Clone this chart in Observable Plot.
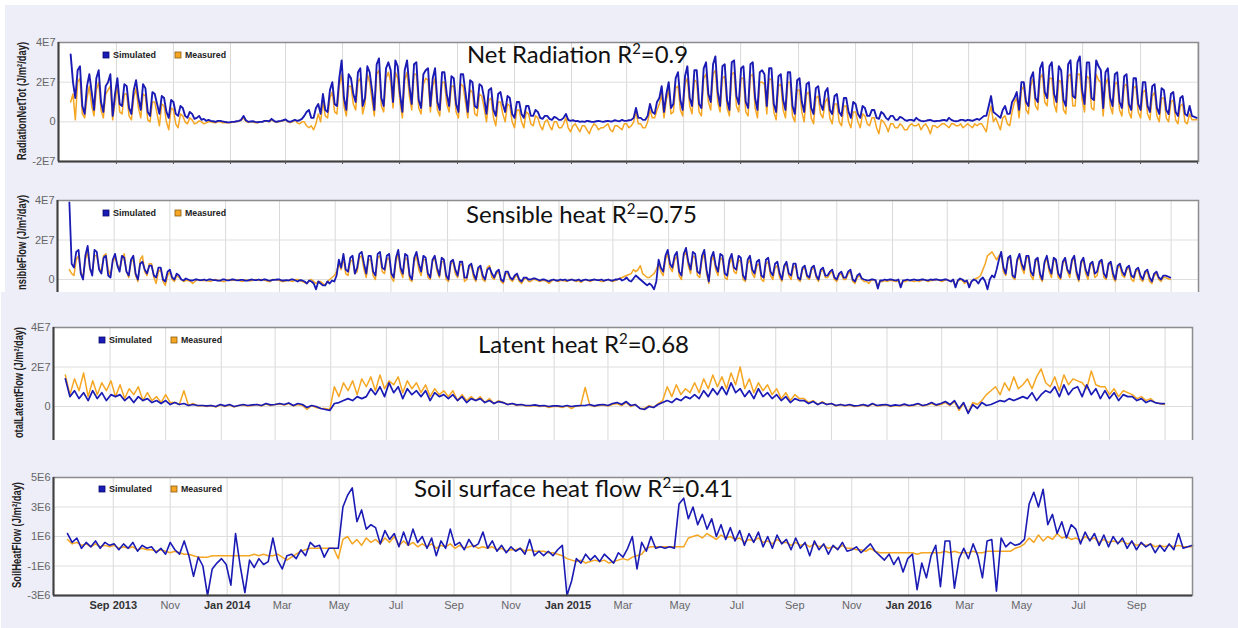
<!DOCTYPE html>
<html><head><meta charset="utf-8">
<script src="https://cdn.jsdelivr.net/npm/d3@7"></script>
<script src="https://cdn.jsdelivr.net/npm/@observablehq/plot@0.6"></script>
<style>
html,body{margin:0;padding:0;background:#fff;}
#root{position:relative;width:1238px;height:628px;overflow:hidden;background:#fff;font-family:"Liberation Sans",Arial,sans-serif;}
.bg{position:absolute;background:#eeeef9;}
.panel{position:absolute;left:0;width:1238px;overflow:hidden;}
</style></head><body><div id="root"></div>
<script>
// ---- data (units of 1E6 J/m²/day), all series start 2013-07-14 ----
const startDate = "2013-07-14";
const denseStepHours = 60;   // net radiation & sensible heat: one value every 2.5 days
const coarseStepHours = 120; // latent heat & soil heat flow: one value every 5 days

const netSim = [
34,20,12,26,28,8,4,18,24,15,6,22, 26,10,5,18,20,24,3,14,22,9,8,19, 18,7,4,16,21,12,6,19,17,5,3,15, 14,9,4,13,12,5,2,11,10,4,3,8,
7,3,2,5,4,1.5,2,3,1,1.5,0.5,1, 0.5,0.3,0,0.5,0.5,0.2,0,-0.2,-0.3,0,0,0.3, 0.5,1,3,0.8,0,0.2,0.3,0,-0.2,0,0,0.5, 0.5,0.3,1.5,0.5,0,0.3,0.5,0.8,1.2,0.3,0,0.5,
1,0.5,0.8,1.5,3,5,6,2,2,7,9,4, 14,6,5,16,20,9,8,22,31,12,6,24, 22,14,10,25,27,8,12,28,25,16,6,29, 32,12,8,27,30,26,10,31,28,14,5,26,
31,18,9,29,30,11,7,24,26,27,8,22, 27,10,6,25,25,14,8,23,22,9,5,24, 24,15,5,21,20,8,7,19,18,12,4,16, 17,6,3,14,15,9,5,13,12,4,2,10,
10,4,2,8,8,3,3,6,5,2,1.5,3, 3,1.5,1,2.5,2,1,1,2,4,1,0.5,0.8, 0.3,0.5,0,0.2,0,0.5,0.3,0,0,0.3,0.5,0.2, 0,0.3,0.5,0.2,0.3,0.8,0.5,0.3,1,0.5,0.5,0.8,
1,2,7,2,2,1,1,3,9,5,4,10, 12,18,5,14,20,7,9,22,25,11,6,23, 28,12,8,26,26,9,7,27,30,14,10,29, 33,15,8,28,29,11,6,30,31,13,9,27,
28,10,7,29,30,12,6,25,26,24,8,27, 27,9,5,23,24,11,6,25,25,8,4,21, 22,10,5,19,20,7,4,17,18,9,6,15, 17,6,4,13,14,5,3,12,12,5,2,10,
9,4,2,8,7,3,3,6,6,2,1.5,5, 4,2,1,3,3,1,1,2.5,2,1,0.5,1, 1,0.5,2,1,0.5,0.3,0.5,0.8,1,0.5,0.3,0.5, 0.5,0.8,1,0.5,2,1,0.5,0.3,0.5,1,1,0.5,
1,0.8,0.5,1,1.5,1,2,3,3,8,13,5, 4,3,2,6,8,4,4,10,12,15,6,20, 20,10,8,22,25,12,10,27,30,15,12,28, 30,14,10,28,26,11,8,29,31,13,12,30,
33,16,9,30,30,12,11,31,28,26,7,25, 27,12,8,24,25,10,7,23,24,9,6,22, 22,9,6,20,20,8,5,18,19,7,4,17, 16,6,4,14,15,5,3,12,13,4,3,8,
3,2.5,2];
const netMeas = [
10,14,1,20,22,4,2,12,18,8,3,16, 20,6,2,14,16,18,1,10,18,5,4,14, 14,3,1,12,17,7,2,14,13,1,0,10, 10,4,-2,9,8,0,-4,7,6,-1,-3,4,
3,0,-1,2,1,-1,-0.5,0.5,0,-1,-0.5,0, 0,-0.3,-0.5,0,0,-0.5,-0.3,-0.5,-0.5,-0.3,0,0, 0.3,0.8,2,0.3,-0.3,0,0,-0.5,-0.5,0,0,0.3, 0.3,0,1,0.3,-0.3,0,0.3,0.5,1,0,-0.3,0,
1,-0.5,-1,0,0,-2,-3,-2,-4,-1,4,0, 10,3,2,12,15,5,4,18,24,8,3,18, 18,9,6,20,22,4,9,24,20,11,3,24, 26,8,5,22,25,20,7,25,22,10,2,21,
25,13,6,24,24,7,4,19,22,21,5,18, 22,6,3,20,20,9,5,18,18,5,2,19, 18,10,2,16,15,4,3,14,13,7,0,11, 12,2,-2,10,10,4,0,9,8,0,-3,6,
6,0,-3,5,4,-1,-2,3,2,-2,-4,0, 1,-2,-4,0,0,-3,-3,-1,2,-3,-5,-2, -1,-3,-5,-2,-2,-4,-6,-3,-1,-2,-4,-3, -3,-2,-1,-4,-5,-2,-2,-3,-4,-1,-1,-3,
-2,0,5,-1,-1,-3,-3,0,6,2,2,6, 9,14,2,11,16,4,5,17,18,6,3,19, 22,8,4,21,20,5,3,22,24,10,6,24, 26,10,5,22,23,7,3,24,25,8,5,22,
22,5,3,23,24,7,2,20,20,19,4,22, 21,5,1,18,19,6,2,20,20,3,0,16, 16,5,0,14,15,2,-1,12,13,4,2,10, 12,2,-1,9,9,0,-2,8,8,0,-3,5,
5,0,-3,4,3,-1,-2,2,2,-3,-6,1, 0,-2,-5,-1,-1,-3,-3,-1,-2,-4,-4,-2, -1,-2,-2,-1,-4,-2,-1,-3,-6,-2,-2,-3, -2,-1,-1,-2,-3,-1,-1,-2,-2,-1,-3,-2,
-1,-2,-3,-1,-2,-1,-1,-3,-5,3,8,0, 2,-1,-4,2,3,-1,-2,5,10,12,2,16, 18,6,4,18,22,8,6,22,24,10,8,22, 22,9,5,21,20,6,4,23,24,8,8,24,
24,11,5,23,22,7,6,24,21,20,3,19, 22,8,4,19,20,6,3,18,19,5,2,17, 18,5,2,15,16,4,1,13,15,3,0,12, 12,2,0,10,11,1,-1,8,9,0,-1,4,
1,1,1];

const sensSim = [
39,8,6,14,15,3,0,12,17,6,2,15, 14,5,3,11,12,2,1,10,13,7,4,12, 11,4,2,10,12,3,0,8,9,5,3,7, 7,2,1,6,6,0,-1,4,5,1,0,3,
2,0,-0.5,0.5,0,-0.5,-0.5,0,0,-0.3,-0.3,0, -0.5,0,0,-0.3,-0.3,-0.6,-0.6,0,0,-0.4,-0.4,0, 0,-0.3,-0.5,-0.2,-0.2,-0.6,-0.6,-0.2,0,-0.3,-0.3,0, -0.4,0,0,-0.4,-0.6,-0.2,-0.2,0,0,-0.5,-0.5,-0.3,
-0.5,0,0,-0.5,-1,-0.3,-0.5,-1,-2,-0.5,-1,-2, -5,-1,-2,-3,-3,-1,-2,-0.5,-1,2,10,6, 13,5,4,11,12,3,6,13,14,8,3,12, 12,4,2,13,14,6,5,12,13,3,1,11,
15,6,3,13,12,2,0,11,14,8,4,12, 11,3,1,10,12,6,2,11,10,2,0,9, 10,5,2,9,9,1,1,7,8,3,0,6, 7,2,0,5,6,3,1,4,5,0,-1,4,
4,1,0,2,3,0,-1,1,1,0,0,0.5, 0.5,0,-0.5,0,0,-0.5,-1,-0.3,0,-0.5,-0.5,0, -0.3,0,-0.6,-0.3,0,-0.4,-0.4,0,-0.8,-0.3,0,-0.3, -0.5,-0.2,0,-0.3,-0.3,0,-0.6,-0.3,0,-0.5,-0.5,0,
0,0.5,-0.5,0,1,-0.5,-1,0.5,2,1,0,-1, -2,-3,-2,-3,-5,-1,10,6,4,12,15,8, 6,12,14,4,2,13,16,9,5,14,13,4, 3,12,15,5,-1,11,14,7,4,13,12,3,
2,10,13,6,5,12,11,2,0,10,12,5, 3,9,10,2,1,10,11,4,2,8,9,3, 0,7,9,3,2,8,8,1,0,6,7,2, 1,6,7,2,0,5,6,2,2,4,5,1,
0,3,4,1,1,4,5,0,-1,2,3,0.5, 0,-0.3,-0.5,0,0,-0.3,-4.6,-0.5,-0.5,0,-0.3,0, 0,-0.3,-0.5,0,-4,-0.5,-0.3,0,-0.5,-0.2,0,-0.3, -0.3,0,0,-0.3,-0.5,0,-0.2,0,0,-0.3,-0.3,0,
0,-0.5,-1,0,-4,-0.5,0.5,0,-1,-0.5,-4,-1, 0,-0.5,-2,0,1,-1,-5,0,2,1,5,10, 14,6,3,11,12,2,1,10,13,8,5,12, 12,4,2,10,11,3,0,9,12,6,3,11,
10,3,1,9,11,5,3,10,12,4,0,9, 11,5,2,8,9,3,4,9,10,3,1,8, 9,3,0,7,8,4,2,6,7,2,1,5, 6,2,0,4,5,1,-1,3,4,1,0,2,
2,1.5,1];
const sensMeas = [
5,3,2,10,12,4,1,10,14,5,3,12, 12,6,4,12,13,5,2,9,11,8,5,10, 13,4,1,9,10,2,-1,10,12,4,2,8, 8,1,-2,4,5,-1,-3,2,4,0,-1,2,
1,0,-1,-0.5,-0.5,-1,-2,-1,0,-0.5,-0.5,-0.5, -0.5,-0.8,-1,-0.3,0,-0.5,-0.5,-1,-1,-0.3,0,-0.5, -0.3,-0.5,0,-0.8,-1,-0.3,-0.3,-0.8,-0.5,-0.2,0,-0.5, 0,-0.3,-0.5,-1,-1,0,0,-0.3,-0.5,-1,-1,-0.5,
-0.5,-0.8,-1,0,0,-0.5,-1,-1.5,-2,-0.5,0,-1, -2,-1,-1,-2,-3,-1,0,1,2,4,8,5, 11,3,2,9,10,3,4,11,12,5,1,10, 10,2,0,11,12,4,3,10,11,1,-1,9,
13,4,1,11,10,0,-1,9,12,5,2,10, 10,1,0,9,11,4,1,9,9,0,-1,8, 9,3,1,7,8,-1,0,6,7,1,-1,5, 6,0,-1,6,7,1,0,3,4,-1,-2,3,
3,0,-1,1,2,-1,-2,0,1,-1,-1,0, 0,-0.5,-1,-0.5,-0.5,-1,-2,-1,0,-0.5,-1,-0.5, -0.5,-0.8,-1,0,0,-0.5,-1,-0.5,-1.5,-0.5,0,-0.5, -1,-0.5,0,-0.3,-0.5,-1,-1,-0.3,0,-0.5,-1,-0.5,
0,0.5,1,1.5,2,2.5,3,5,4,5,7,3, 2,1,1,2,3,5,8,4,2,10,13,6, 4,10,12,2,0,12,14,7,3,12,11,2, 1,10,13,3,-2,9,12,5,2,11,10,1,
0,8,11,4,3,10,9,0,-1,8,10,3, 1,7,8,0,-1,8,9,2,0,6,7,1, -1,6,8,2,0,6,7,0,-1,5,6,1, 0,5,6,1,-1,4,5,1,1,3,4,0,
-1,2,3,0,0,3,4,-1,-2,1,2,0, -1,-1,-2,-0.5,0,-1,-3,-1,-1,-0.5,-1,-0.5, -0.5,-0.8,-1,-0.5,-3,-1,-1,-0.5,-0.5,-0.8,-1,-0.5, -1,-0.5,0,-0.5,-1,-0.5,-0.5,-0.2,0,-0.5,-1,-0.5,
0,-0.5,-1,-0.5,-3,-1,0,-0.5,-2,-1,-3,-1, 0,0.5,1,2,5,8,12,13,14,12,10,12, 13,4,2,10,11,1,0,9,12,6,3,11, 11,2,0,9,10,1,-1,8,11,4,1,10,
9,1,0,8,10,4,1,9,11,2,-1,8, 10,3,0,7,8,1,2,8,9,1,0,7, 8,1,-1,6,7,2,1,5,6,0,-1,4, 5,0,-1,3,4,-1,-2,2,3,0,-1,1,
1,0.5,0];

const latSim = [
14,5,8,4,7,3, 8,4,7,3,6,5, 6,3,5,2,5,3, 4,2,3,1.5,3,1, 2,1,1.5,0.5,1,0.5,
0.5,0.3,0.5,0,1,0.3, 1,0,0.5,1,0.5,0.8, 1,0.5,1.5,0.8,1,1.5, 1,1.8,0.5,1.5,1,-0.5, 0.5,0,-1,-1.5,-2,1.5,
2,3,4,3,5,4, 5,9,6,10,5,12, 7,10,4,9,6,8, 5,8,3,7,5,6, 4,6,3,5,2,4,
3,4,2,3,1.5,2.5, 2,1,1.5,0.8,1,0.5, 0.5,0.8,0.3,0.5,0,0.3, 0.3,0,0.5,0,0.3,0.5, 0.5,1,0.3,0.8,1,0.5,
1.5,2,1,2.5,0.5,1, -1,-1.5,0,-0.5,1,2, 3,2,4,3,5,4, 6,4,8,5,9,6, 10,6,12,7,9,5,
8,4,9,5,7,4, 6,3,5,2,4,3, 3,1.5,2.5,1,2,1, 1.5,0.5,1,0.5,1,0.3, 0.5,1,0.3,1.5,0.5,0.8,
1,0.3,0.8,0.5,1.2,0.5, 0.8,1.5,0.5,1,2,0.8, 1.5,2.5,1,3,-1,2, -3.5,1,-1,2,0.5,1, 2,3,2.5,4,3,4,
5,4,7,3,6,8, 7,10,5,11,6,9, 10,5,11,6,9,4, 8,4,7,3,6,5, 5,3,4,2,3,2,
1.5,1.5];
const latMeas = [
16,6,14,8,17,5, 13,6,12,8,13,5, 11,4,9,6,10,3, 7,3,5,2,6,2, 2,1,8,0.5,1.5,0.3,
0.5,0,0.5,-0.3,0.8,0, 0.8,-0.3,0.5,0.8,0.3,0.5, 1,0.3,1.2,0.5,1,1.2, 0.8,1.5,0.3,1,0.5,-1.5, 0.5,-0.5,-1,-1,-1.5,10,
5,12,8,13,6,14, 10,15,8,16,9,13, 11,15,7,13,9,12, 7,11,5,9,6,8, 5,8,3,6,3,5,
3,5,2,4,1.5,3, 2,1,1.5,0.5,1,0.3, 0.3,0.5,0,0.3,-0.5,0, 0,-0.5,0.3,-1,0.3,0.3, 9.6,0.8,0,0.5,0.8,0.3,
1,1.5,0.5,2,0,1, -1,-1,0.5,-0.5,1.5,3, 10,5,11,6,9,7, 12,7,14,9,16,10, 15,9,17,11,20,9,
14,7,12,8,11,6, 9,4,7,3,6,4, 4,2,3,1,2.5,1, 1.5,0.3,1,0.3,0.8,0, 0.3,0.8,0,1.2,0.3,0.5,
0.8,0,0.5,0.3,1,0.3, 0.5,1.2,0.3,0.8,1.5,0.5, 1,2,0.5,2.5,-2,1.5, -3,2,1,3,6,8, 10,6,12,8,15,9,
11,14,9,15,19,12, 10,15,8,16,11,14, 13,12,9,18,11,10, 10,6,9,5,8,7, 6,4,5,3,4,2,
1.5,1];

const soilSim = [
1.2,0.6,0.9,0.2,0.6,0.3, 0.7,0.2,0.6,0.4,0.5,0.1, 0.5,0.2,0.6,0,0.4,0.2, 0.3,-0.1,0.2,-0.2,0.6,0.1, -0.2,0.7,-0.3,-1.7,-0.4,-1,
-3,-1.2,-0.8,-0.5,-0.9,-2.3, 1.2,-1,-2.8,-0.6,-1.1,-0.5, -0.9,-0.7,0.9,-0.6,-1.2,-0.3, -0.2,-0.5,0.1,-0.3,0.6,0.3, 0.4,-0.4,0.2,0.2,0.2,3,
3.8,4.3,2,2.8,1.5,1.8, 1.6,0.5,1.4,0.8,1.2,0.3, 1.3,0.4,1.5,0.6,1,0.2, 0.9,-0.3,0.7,0.2,1.5,0.4, 0.6,0.1,0.8,0.3,0.5,1.3,
0.2,0.7,0,0.4,-0.1,0.3, 0,0.2,-0.2,0.8,-0.3,0, -0.3,0,-0.3,0.1,0.4,-3, -2,-0.5,-0.8,-0.2,-0.6,-0.3, -0.7,-0.2,-0.5,-0.8,-0.1,-0.4,
0.2,1,-1.2,0.6,0,1, 0.2,0.3,0.2,0.3,0.2,3.2, 3.6,2.2,3,1.8,2.5,1.5, 2.2,1,1.8,0.8,1.6,0.7, 1.4,0.4,1.2,0.6,1.3,0.3,
1,0.2,1.1,0.5,0.8,0.1, 0.9,0.2,0.6,-0.3,0.7,0.1, 0.5,-0.2,0.4,0.1,0.6,0, 0.1,0.3,-0.1,0.2,0.5,0, -0.3,-0.6,-0.2,-0.9,-0.4,-1.4,
-0.5,-0.2,-2.6,-0.8,-1.8,-0.3, 0.4,-2.4,0.7,0.7,-2.5,-0.5, 0.2,-0.5,0.5,-0.3,-1.8,0.7, 0.8,-2.7,0.9,0.3,0.6,0.4, 0.5,0.8,3.2,4,3,4.2,
1.8,2.5,1.2,2,0.9,1.8, 1.5,0.5,1.3,0.7,1.2,0.4, 1.1,0.3,1,0.5,0.9,0.2, 0.7,0.1,0.6,0.3,0.5,-0.1, 0.4,0,0.5,0.1,1.2,0.2,
0.3,0.4];
const soilMeas = [
0.8,0.5,0.6,0.4,0.5,0.3, 0.5,0.3,0.4,0.3,0.4,0.2, 0.3,0.2,0.3,0.1,0.2,0.1, 0.1,0,0.1,0,-0.1,0, -0.1,-0.2,-0.2,-0.3,-0.4,-0.4,
-0.4,-0.3,-0.3,-0.3,-0.3,-0.3, -0.3,-0.3,-0.3,-0.3,-0.2,-0.3, -0.2,-0.3,-0.3,-0.2,-0.4,-0.6, -0.4,-0.2,0,0.1,0.2,0.2, 0.2,0.2,0.2,0.2,-0.5,0.8,
1,0.5,0.8,0.4,0.9,0.6, 0.8,0.5,0.9,0.6,1,0.4, 0.7,0.4,0.6,0.3,0.5,0.3, 0.5,0.2,0.4,0.3,0.5,0.2, 0.4,0.2,0.3,0.4,0.2,0.3,
0.2,0.3,0.1,0.2,0,0.1, 0.1,0.2,0,0.1,0,0, 0,-0.1,-0.1,-0.2,-0.3,-0.5, -0.6,-0.7,-0.6,-0.8,-0.7,-0.6, -0.7,-0.6,-0.8,-0.7,-0.6,-0.5,
-0.6,-0.4,-0.3,-0.2,0.2,0.3, 0.3,0.3,0.3,0.3,0.3,0.3, 0.3,0.9,1,1.1,0.9,1.2, 1,0.8,1.1,0.9,1,0.8, 0.9,0.6,0.8,0.7,0.9,0.6,
0.7,0.5,0.8,0.6,0.6,0.4, 0.6,0.4,0.5,0.3,0.5,0.3, 0.4,0.2,0.3,0.2,0.4,0.2, 0.2,0.1,0.1,0,0.2,0, -0.1,-0.1,-0.1,-0.1,-0.1,-0.1,
-0.1,-0.1,-0.2,-0.1,-0.1,-0.1, -0.1,-0.1,0,-0.1,0,-0.1, -0.1,-0.1,0,-0.1,-0.1,0, 0,0,0,0,0,0.2, 0.3,0.5,0.9,0.6,1.1,0.7,
1,0.8,1.2,0.9,1,0.8, 0.9,0.7,1,0.8,0.9,0.6, 0.8,0.6,0.7,0.6,0.7,0.5, 0.6,0.4,0.5,0.4,0.5,0.3, 0.4,0.3,0.4,0.3,0.4,0.3,
0.3,0.3];

// ---- ticks and labels ----
const yTicksBig = [-2e7, 0, 2e7, 4e7];
const yTickLabelsBig = ["-2E7", "0", "2E7", "4E7"];
const yTicksCut = [0, 2e7, 4e7];
const yTickLabelsCut = ["0", "2E7", "4E7"];
const yTicksSoil = [-3e6, -1e6, 1e6, 3e6, 5e6];
const yTickLabelsSoil = ["-3E6", "-1E6", "1E6", "3E6", "5E6"];
const xTickDates = ["2013-09-01","2013-11-01","2014-01-01","2014-03-01","2014-05-01","2014-07-01","2014-09-01","2014-11-01","2015-01-01","2015-03-01","2015-05-01","2015-07-01","2015-09-01","2015-11-01","2016-01-01","2016-03-01","2016-05-01","2016-07-01","2016-09-01","2016-11-01"];
const xTickLabels = ["Sep 2013","Nov","Jan 2014","Mar","May","Jul","Sep","Nov","Jan 2015","Mar","May","Jul","Sep","Nov","Jan 2016","Mar","May","Jul","Sep","Nov"];
const titleNames = ["Net Radiation ", "Sensible heat ", "Latent heat ", "Soil surface heat flow "];
const titleR2 = ["0.9", "0.75", "0.68", "0.41"];
const yAxisLabels = ["RadiationNetTot (J/m²/day)", "nsibleFlow (J/m²/day)", "otalLatentFlow (J/m²/day)", "SoilHeatFlow (J/m²/day)"];
const seriesNames = ["Simulated", "Measured"];

// ---- build ----
const BLUE = "#1a1ab4", ORANGE = "#f5a623";
const root = document.getElementById("root");
function bg(l, t, w, h) { const d = document.createElement("div"); d.className = "bg"; Object.assign(d.style, {left: l+"px", top: t+"px", width: w+"px", height: h+"px"}); root.appendChild(d); }
bg(5, 5, 1233, 287);
bg(1, 292, 1237, 336);

const start = new Date(startDate);
function rows(arr, stepH) { return arr.map((v, i) => ({date: d3.utcHour.offset(start, i * stepH), v: v * 1e6})); }
const tickDates = xTickDates.map(d => new Date(d));
const tickLabelMap = new Map(tickDates.map((d, i) => [+d, xTickLabels[i]]));

const panels = [
  {sim: netSim, meas: netMeas, step: denseStepHours, sw: 1.9, top: 0, clipH: 168, svgH: 185, mt: 42, mb: 24, ml: 58, mr: 40, xd: ["2013-07-01","2016-11-02"], yd: [-2e7, 4e7], gy: yTicksBig, yt: yTicksBig, yl: yTickLabelsBig, ticks: true},
  {sim: sensSim, meas: sensMeas, step: denseStepHours, sw: 1.8, top: 185, clipH: 107, svgH: 160, mt: 15, mb: 26.5, ml: 57, mr: 40, xd: ["2013-07-01","2016-12-01"], yd: [-2e7, 4e7], gy: yTicksBig, yt: yTicksCut, yl: yTickLabelsCut},
  {sim: latSim, meas: latMeas, step: coarseStepHours, sw: 1.7, top: 292, clipH: 148, svgH: 180, mt: 35, mb: 26.5, ml: 53, mr: 46, xd: ["2013-07-01","2016-12-01"], yd: [-2e7, 4e7], gy: yTicksBig, yt: yTicksCut, yl: yTickLabelsCut},
  {sim: soilSim, meas: soilMeas, step: coarseStepHours, sw: 1.6, top: 440, clipH: 188, svgH: 188, mt: 37, mb: 33, ml: 53, mr: 46, xd: ["2013-06-29","2016-10-31"], yd: [-3e6, 5e6], gy: yTicksSoil, yt: yTicksSoil, yl: yTickLabelsSoil, labels: true}
];

panels.forEach(p => {
  const div = document.createElement("div");
  div.className = "panel";
  div.style.top = p.top + "px";
  div.style.height = p.clipH + "px";
  const x0 = new Date(p.xd[0]), x1 = new Date(p.xd[1]);
  const ticks = tickDates.filter(d => d > x0 && d < x1);
  const ymap = new Map(p.yt.map((t, i) => [t, p.yl[i]]));
  const marks = [
    Plot.frame({fill: "white"}),
    Plot.gridX(ticks, {stroke: "#d9d9d9", strokeOpacity: 1}),
    Plot.gridY(p.gy, {stroke: "#dedede", strokeOpacity: 1}),
    Plot.lineY(rows(p.meas, p.step), {x: "date", y: "v", stroke: ORANGE, strokeWidth: 1.5}),
    Plot.lineY(rows(p.sim, p.step), {x: "date", y: "v", stroke: BLUE, strokeWidth: p.sw}),
    Plot.frame({stroke: "#8c8c8c", strokeWidth: 1.5}),
    Plot.ruleX([x0], {stroke: "#404040", strokeWidth: 2}),
    Plot.ruleY([p.yd[0]], {stroke: "#404040", strokeWidth: 2}),
    Plot.axisY(p.yt, {tickFormat: d => ymap.get(d), tickSize: 0, tickPadding: 3, fill: "#666", fontSize: 11, label: null})
  ];
  if (p.ticks) marks.push(Plot.axisX(ticks, {tickSize: 3, tickFormat: () => "", stroke: "#555", label: null}));
  if (p.labels) {
    const bold = ticks.filter(d => tickLabelMap.get(+d).includes(" "));
    const norm = ticks.filter(d => !tickLabelMap.get(+d).includes(" "));
    marks.push(Plot.axisX(bold, {tickFormat: d => tickLabelMap.get(+d), tickSize: 0, tickPadding: 6, fill: "#333", fontWeight: "bold", fontSize: 11, label: null}));
    marks.push(Plot.axisX(norm, {tickFormat: d => tickLabelMap.get(+d), tickSize: 0, tickPadding: 6, fill: "#666", fontSize: 11, label: null}));
  }
  const svg = Plot.plot({
    width: 1238, height: p.svgH,
    marginTop: p.mt, marginBottom: p.mb, marginLeft: p.ml, marginRight: p.mr,
    x: {type: "utc", domain: [x0, x1], axis: null},
    y: {domain: p.yd, axis: null},
    style: {background: "transparent", fontFamily: "'Liberation Sans', Arial, sans-serif", fontSize: "11px", overflow: "visible"},
    marks
  });
  div.appendChild(svg);
  root.appendChild(div);
});

// ---- overlay texts: titles, legends, axis labels ----
const ov = d3.select(root).append("svg").attr("width", 1238).attr("height", 628)
  .style("position", "absolute").style("left", "0px").style("top", "0px").style("pointer-events", "none");

const titlePos = [[467, 63, 221], [466, 223, 231], [478, 353, 211], [414, 497, 319]];
titlePos.forEach(([x, y, len], i) => {
  const t = ov.append("text").attr("x", x).attr("y", y)
    .attr("font-family", "Lato, 'Open Sans', sans-serif").attr("font-size", 24).attr("fill", "#111")
    .attr("textLength", len).attr("lengthAdjust", "spacingAndGlyphs");
  t.append("tspan").text(titleNames[i] + "R");
  t.append("tspan").attr("font-size", 15).attr("dy", -9).text("2");
  t.append("tspan").attr("dy", 9).text("=" + titleR2[i]);
});

const legendPos = [[103, 55], [103, 213], [99, 340], [99, 489]];
legendPos.forEach(([x, y]) => {
  [[0, BLUE, "#0a0a70", 43], [72, ORANGE, "#8a5c10", 41]].forEach(([off, fill, st, len], k) => {
    ov.append("rect").attr("x", x + off).attr("y", y - 3).attr("width", 6).attr("height", 6)
      .attr("fill", fill).attr("stroke", st).attr("stroke-width", 0.8);
    ov.append("text").attr("x", x + off + 10).attr("y", y + 3)
      .attr("font-family", "'Liberation Sans', Arial, sans-serif").attr("font-weight", "bold").attr("font-size", 8.5)
      .attr("fill", "#222").attr("textLength", len).attr("lengthAdjust", "spacingAndGlyphs").text(seriesNames[k]);
  });
});

const ylabPos = [[26, 160, 118], [26, 290, 95], [23, 438, 111], [21, 588, 106]];
ylabPos.forEach(([x, y, len], i) => {
  ov.append("text").attr("transform", `translate(${x},${y}) rotate(-90)`)
    .attr("font-family", "'Liberation Sans', Arial, sans-serif").attr("font-weight", "bold").attr("font-size", 12)
    .attr("fill", "#222").attr("textLength", len).attr("lengthAdjust", "spacingAndGlyphs").text(yAxisLabels[i]);
});
</script>
</body></html>
